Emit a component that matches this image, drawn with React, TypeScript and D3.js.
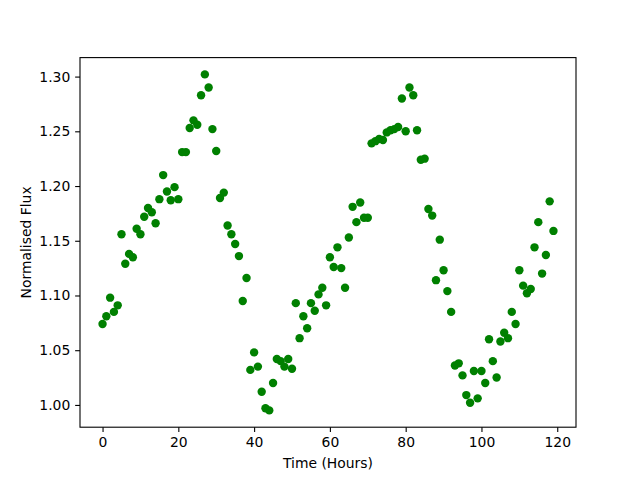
import React, { useEffect, useRef } from "react";
import * as d3 from "d3";

// hourly samples
const hours: number[] = d3.range(0, 120);
const flux: number[] = [
  1.074, 1.081, 1.098, 1.085, 1.091, 1.156, 1.129, 1.138, 1.135, 1.161,
  1.156, 1.172, 1.180, 1.176, 1.166, 1.188, 1.210, 1.195, 1.187, 1.199,
  1.188, 1.231, 1.231, 1.253, 1.260, 1.256, 1.283, 1.302, 1.290, 1.252,
  1.232, 1.189, 1.194, 1.164, 1.156, 1.147, 1.136, 1.095, 1.116, 1.032,
  1.048, 1.035, 1.012, 0.997, 0.995, 1.020, 1.042, 1.040, 1.035, 1.042,
  1.033, 1.093, 1.061, 1.081, 1.070, 1.093, 1.086, 1.101, 1.107, 1.091,
  1.135, 1.126, 1.144, 1.125, 1.107, 1.153, 1.181, 1.167, 1.185, 1.171,
  1.171, 1.239, 1.241, 1.243, 1.242, 1.249, 1.251, 1.252, 1.254, 1.280,
  1.250, 1.290, 1.283, 1.251, 1.224, 1.225, 1.179, 1.173, 1.114, 1.151,
  1.123, 1.104, 1.085, 1.036, 1.038, 1.027, 1.009, 1.002, 1.031, 1.006,
  1.031, 1.020, 1.060, 1.040, 1.025, 1.058, 1.066, 1.061, 1.085, 1.074,
  1.123, 1.109, 1.102, 1.106, 1.144, 1.167, 1.120, 1.137, 1.186, 1.159,
];
const xTicks: number[] = [0, 20, 40, 60, 80, 100, 120];
const yTicks: number[] = [1.0, 1.05, 1.1, 1.15, 1.2, 1.25, 1.3];

const W = 640;
const H = 480;
const margin = { left: 80, right: 64, top: 57.6, bottom: 52.8 };
const FONT = "'DejaVu Sans', sans-serif";
const FS = 13.9;

// matplotlib style 5% padding around the data
function padded(ext: [number, number]): [number, number] {
  const span = ext[1] - ext[0];
  return [ext[0] - span * 0.05, ext[1] + span * 0.05];
}

export default function App() {
  const svgRef = useRef<SVGSVGElement>(null);

  useEffect(() => {
    if (!svgRef.current) return;
    const svg = d3.select(svgRef.current);
    svg.selectAll("*").remove();

    const x = d3
      .scaleLinear()
      .domain(padded(d3.extent(hours) as [number, number]))
      .range([margin.left, W - margin.right]);
    const y = d3
      .scaleLinear()
      .domain(padded(d3.extent(flux) as [number, number]))
      .range([H - margin.bottom, margin.top]);

    svg.append("rect").attr("width", W).attr("height", H).attr("fill", "white");

    const pts = hours.map((h, i) => ({ h, f: flux[i] }));
    svg
      .append("g")
      .selectAll("circle")
      .data(pts)
      .enter()
      .append("circle")
      .attr("cx", (d) => x(d.h))
      .attr("cy", (d) => y(d.f))
      .attr("r", 4.2)
      .attr("fill", "#008000");

    const tick = 4.86;

    const gx = svg
      .append("g")
      .attr("transform", `translate(0,${H - margin.bottom})`)
      .call(d3.axisBottom(x).tickValues(xTicks).tickSize(tick).tickPadding(4.86).tickFormat(d3.format("d")));
    const gy = svg
      .append("g")
      .attr("transform", `translate(${margin.left},0)`)
      .call(d3.axisLeft(y).tickValues(yTicks).tickSize(tick).tickPadding(4.86).tickFormat(d3.format(".2f")));

    [gx, gy].forEach((g) => {
      g.select(".domain").remove();
      g.selectAll("line").attr("stroke", "black").attr("stroke-width", 1.1);
      g.selectAll("text").attr("fill", "black").style("font-family", FONT).style("font-size", `${FS}px`);
    });

    // spines
    svg
      .append("rect")
      .attr("x", margin.left)
      .attr("y", margin.top)
      .attr("width", W - margin.left - margin.right)
      .attr("height", H - margin.top - margin.bottom)
      .attr("fill", "none")
      .attr("stroke", "black")
      .attr("stroke-width", 1.1);

    svg
      .append("text")
      .attr("x", (margin.left + W - margin.right) / 2)
      .attr("y", 468)
      .attr("text-anchor", "middle")
      .style("font-family", FONT)
      .style("font-size", `${FS}px`)
      .text("Time (Hours)");

    svg
      .append("text")
      .attr("transform", `translate(31,${(margin.top + H - margin.bottom) / 2}) rotate(-90)`)
      .attr("text-anchor", "middle")
      .style("font-family", FONT)
      .style("font-size", `${FS}px`)
      .text("Normalised Flux");
  }, []);

  return (
    <svg
      ref={svgRef}
      width={W}
      height={H}
      style={{ position: "absolute", left: 0, top: 0 }}
    ></svg>
  );
}
